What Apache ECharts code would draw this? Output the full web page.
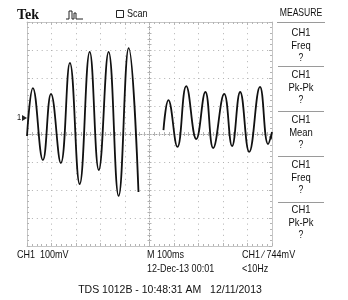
<!DOCTYPE html>
<html><head><meta charset="utf-8">
<script src="https://cdn.jsdelivr.net/npm/echarts@6/dist/echarts.min.js"></script>
<style>html,body{margin:0;padding:0;background:#fff}#c{width:348px;height:300px}</style>
</head><body><div id="c"></div>
<script>
// Waveform (time in ms, 100 ms/div; voltage in mV relative to screen centre, 100 mV/div)
const seg1Time = [0, 24, 65, 98, 138, 175, 215, 256, 293, 333, 374, 415, 455];
const seg1Volt = [-7, 164, -93, 143, -104, 254, -179, 293, -129, 293, -221, 307, -207];
const seg2Time = [557, 577, 614, 650, 691, 728, 760, 805, 837, 870, 907, 951, 984, 1000];
const seg2Volt = [14, 121, -46, 171, -18, 150, -50, 143, -43, 150, -64, 168, -36, 7];

const measureTitle = 'MEASURE';
const measureItems = [
  ['CH1', 'Freq', '?'],
  ['CH1', 'Pk-Pk', '?'],
  ['CH1', 'Mean', '?'],
  ['CH1', 'Freq', '?'],
  ['CH1', 'Pk-Pk', '?']
];
const headerBrand = 'Tek';
const headerMode = 'Scan';
const statusCh = 'CH1  100mV';
const statusTime = 'M 100ms';
const statusTrig = 'CH1 \u2215 744mV';
const statusDate = '12-Dec-13 00:01';
const statusFreq = '<10Hz';
const footer = 'TDS 1012B - 10:48:31 AM   12/11/2013';

const sans = '"Liberation Sans",Arial,sans-serif';
const GL = 27, GT = 22, GW = 245, GH = 224;

function pairs(t, v) { return t.map((x, i) => [x, v[i]]); }

const gridColor = '#b0b0b0';
function borderAxis(pos, isX, grid, split) {
  return {
    type: 'value', gridIndex: grid, position: pos,
    min: isX ? 0 : -400, max: isX ? 1000 : 400, interval: 100,
    axisLine: { show: true, onZero: false, lineStyle: { color: '#c6c6c6', width: 1 } },
    axisTick: { show: true, inside: true, length: 3, lineStyle: { color: '#b4b4b4' } },
    minorTick: { show: true, splitNumber: 5, length: 2, lineStyle: { color: '#b4b4b4' } },
    axisLabel: { show: false },
    splitLine: { show: split, lineStyle: { color: gridColor, width: 1, type: isX ? [1, 4.6] : [1, 3.9] } },
    minorSplitLine: { show: false }
  };
}
function centerAxis(pos, isX, grid, showLine) {
  return {
    type: 'value', gridIndex: grid, position: pos,
    min: isX ? -500 : -400, max: isX ? 500 : 400, interval: 100,
    axisLine: { show: showLine, onZero: true, lineStyle: { color: '#a0a0a0', width: 1, type: [1, 2] } },
    axisTick: { show: true, inside: true, length: 2, lineStyle: { color: '#b4b4b4' } },
    minorTick: { show: true, splitNumber: 5, length: 2, lineStyle: { color: '#b4b4b4' } },
    axisLabel: { show: false },
    splitLine: { show: false }
  };
}

const graphics = [];
function txt(x, y, s, opt, sx) {
  graphics.push({ type: 'text', x: x, y: y, scaleX: sx == null ? 0.82 : sx, silent: true,
    style: Object.assign({ text: s, fill: '#111', font: '11px ' + sans, textAlign: 'left', textVerticalAlign: 'middle' }, opt || {}) });
}
// header
txt(17, 15, headerBrand, { font: 'bold 14px "Liberation Serif",serif' }, 1);
graphics.push({ type: 'polyline', silent: true, shape: { points: [[66, 19], [69, 19], [69, 11], [72, 11], [72, 19], [74, 19], [74, 13], [76, 13], [76, 19], [83, 19]] },
  style: { stroke: '#222', lineWidth: 1, fill: null } });
graphics.push({ type: 'rect', silent: true, shape: { x: 116.5, y: 10.5, width: 7, height: 7 }, style: { stroke: '#222', lineWidth: 1, fill: null } });
txt(127, 14, headerMode, { font: '11px ' + sans });
// measure panel
const PX = 301;
txt(PX, 13, measureTitle, { textAlign: 'center', font: '10.5px ' + sans });
graphics.push({ type: 'line', silent: true, shape: { x1: 277, y1: 22.5, x2: 325, y2: 22.5 }, style: { stroke: '#9a9a9a', lineWidth: 1 } });
const itemTop = [33, 75, 120, 165, 210];
const sepY = [66, 111, 156, 202];
measureItems.forEach((it, i) => {
  it.forEach((s, j) => txt(PX, itemTop[i] + j * 12.7, s, { textAlign: 'center', font: (j === 2 ? '10.5px ' : '11.5px ') + sans }));
});
sepY.forEach(y => graphics.push({ type: 'line', silent: true, shape: { x1: 278, y1: y + 0.5, x2: 324, y2: y + 0.5 }, style: { stroke: '#9a9a9a', lineWidth: 1 } }));
// markers
txt(17, 118, '1', { font: '9px ' + sans });
graphics.push({ type: 'polygon', silent: true, shape: { points: [[22, 115], [27, 118], [22, 121]] }, style: { fill: '#222' } });
graphics.push({ type: 'polygon', silent: true, shape: { points: [[273, 134], [269, 137], [273, 140]] }, style: { fill: '#222' } });
// status
txt(17, 255, statusCh);
txt(147, 255, statusTime);
txt(242, 255, statusTrig);
txt(147, 269, statusDate);
txt(242, 269, statusFreq);
txt(170, 290, footer, { textAlign: 'center', font: '10.5px ' + sans }, 1);

const chart = echarts.init(document.getElementById('c'), null, { renderer: 'canvas' });
const rect = { left: GL, top: GT, width: GW, height: GH, containLabel: false };
chart.setOption({
  animation: false,
  backgroundColor: '#fff',
  grid: [Object.assign({}, rect), Object.assign({}, rect), Object.assign({}, rect)],
  xAxis: [
    borderAxis('bottom', true, 0, true),
    borderAxis('top', true, 0, false),
    centerAxis('bottom', true, 1, true),
    centerAxis('top', true, 2, false)
  ],
  yAxis: [
    borderAxis('left', false, 0, true),
    borderAxis('right', false, 0, false),
    centerAxis('left', false, 1, true),
    centerAxis('right', false, 2, false)
  ],
  series: [
    { type: 'line', xAxisIndex: 0, yAxisIndex: 0, data: pairs(seg1Time, seg1Volt), smooth: 0.45, symbol: 'none',
      lineStyle: { color: '#111', width: 1.8 }, z: 5 },
    { type: 'line', xAxisIndex: 0, yAxisIndex: 0, data: pairs(seg2Time, seg2Volt), smooth: 0.45, symbol: 'none',
      lineStyle: { color: '#111', width: 1.8 }, z: 5 }
  ],
  graphic: graphics
});
</script>
</body></html>
